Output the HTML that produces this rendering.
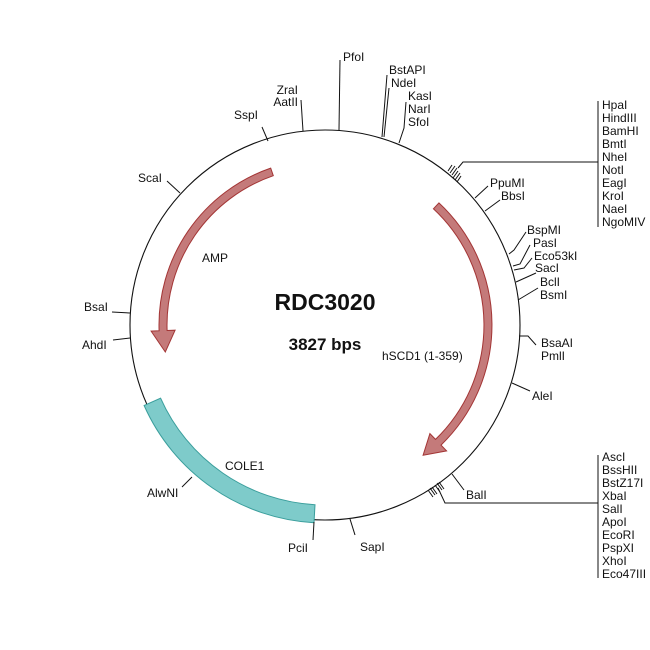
<!DOCTYPE html>
<html><head><meta charset="utf-8"><style>
body{margin:0;background:#fff;}
svg{display:block;font-family:"Liberation Sans",Arial,sans-serif;}
.l{font-size:12px;fill:#111;}
</style></head><body>
<svg width="650" height="650" viewBox="0 0 650 650">
<rect width="650" height="650" fill="#fff"/>
<circle cx="325" cy="325" r="195" fill="none" stroke="#111" stroke-width="1.1"/>
<path d="M144.1,405.5 A198,198 0 0 0 314,522.7 L315,504.7 A180,180 0 0 1 160.6,398.2 Z" fill="#7ecbca" stroke="#3a9e9c" stroke-width="1"/>
<path d="M270.7,168.1 A166,166 0 0 0 159.1,330.8 L151.1,331.1 L165.3,352 L175.1,330.2 L167.1,330.5 A158,158 0 0 1 273.3,175.7 Z" fill="#c47a7a" stroke="#a33535" stroke-width="1"/>
<path d="M438.9,202.9 A167,167 0 0 1 441,445.1 L446.6,450.9 L423.1,455.2 L429.9,433.6 L435.5,439.4 A159,159 0 0 0 433.4,208.8 Z" fill="#c47a7a" stroke="#a33535" stroke-width="1"/>
<g stroke="#111" stroke-width="1" fill="none">
<line x1="268" y1="141" x2="262" y2="127"/>
<line x1="303" y1="131" x2="301" y2="100"/>
<line x1="339" y1="130" x2="340" y2="60"/>
<line x1="382" y1="137" x2="387" y2="75"/>
<line x1="384" y1="137" x2="389" y2="88"/>
<polyline points="399,143 404,128 406,102"/>
<line x1="448" y1="171" x2="452" y2="165"/><line x1="450" y1="173" x2="455" y2="166"/><line x1="452" y1="175" x2="457" y2="168"/>
<line x1="453" y1="178" x2="458" y2="171"/><line x1="455" y1="180" x2="460" y2="173"/><line x1="457" y1="182" x2="461" y2="176"/>
<polyline points="458,168 463,162 598,162"/>
<line x1="598" y1="101" x2="598" y2="227"/>
<polyline points="475,198 488,186"/>
<polyline points="485,211 500,200"/>
<polyline points="509,254 514,250 526,232"/>
<polyline points="513,266 520,264 530,245"/>
<polyline points="514,270 524,268 532,258"/>
<polyline points="516,282 536,273"/>
<polyline points="518,300 538,288"/>
<polyline points="519,336 528,336 536,345"/>
<polyline points="512,383 530,391"/>
<polyline points="452,474 464,490"/>
<line x1="428" y1="490" x2="433" y2="497"/><line x1="430" y1="488" x2="435" y2="495"/><line x1="432" y1="487" x2="437" y2="494"/>
<line x1="435" y1="485" x2="440" y2="492"/><line x1="437" y1="483" x2="442" y2="490"/><line x1="439" y1="482" x2="444" y2="489"/>
<polyline points="438,488 445,503 598,503"/>
<line x1="598" y1="455" x2="598" y2="578"/>
<line x1="350" y1="519" x2="355" y2="535"/>
<line x1="314" y1="522" x2="313" y2="540"/>
<line x1="192" y1="477" x2="182" y2="487"/>
<line x1="130" y1="338" x2="113" y2="340"/>
<line x1="130" y1="313" x2="112" y2="312"/>
<line x1="180" y1="193" x2="167" y2="181"/>
</g>
<g class="l">
<text x="234" y="119">SspI</text>
<text x="298" y="94" text-anchor="end">ZraI</text>
<text x="298" y="106" text-anchor="end">AatII</text>
<text x="343" y="61">PfoI</text>
<text x="389" y="74">BstAPI</text>
<text x="391" y="87">NdeI</text>
<text x="408" y="100">KasI</text>
<text x="408" y="113">NarI</text>
<text x="408" y="126">SfoI</text>
<text x="602" y="109">HpaI</text><text x="602" y="122">HindIII</text><text x="602" y="135">BamHI</text>
<text x="602" y="148">BmtI</text><text x="602" y="161">NheI</text><text x="602" y="174">NotI</text>
<text x="602" y="187">EagI</text><text x="602" y="200">KroI</text><text x="602" y="213">NaeI</text><text x="602" y="226">NgoMIV</text>
<text x="490" y="187">PpuMI</text>
<text x="501" y="200">BbsI</text>
<text x="527" y="234">BspMI</text>
<text x="533" y="247">PasI</text>
<text x="534" y="260">Eco53kI</text>
<text x="535" y="272">SacI</text>
<text x="540" y="286">BclI</text>
<text x="540" y="299">BsmI</text>
<text x="541" y="347">BsaAI</text>
<text x="541" y="360">PmlI</text>
<text x="532" y="400">AleI</text>
<text x="466" y="499">BalI</text>
<text x="602" y="461">AscI</text><text x="602" y="474">BssHII</text><text x="602" y="487">BstZ17I</text>
<text x="602" y="500">XbaI</text><text x="602" y="513">SalI</text><text x="602" y="526">ApoI</text>
<text x="602" y="539">EcoRI</text><text x="602" y="552">PspXI</text><text x="602" y="565">XhoI</text><text x="602" y="578">Eco47III</text>
<text x="360" y="551">SapI</text>
<text x="288" y="552">PciI</text>
<text x="147" y="497">AlwNI</text>
<text x="82" y="349">AhdI</text>
<text x="84" y="311">BsaI</text>
<text x="138" y="182">ScaI</text>
<text x="202" y="262">AMP</text>
<text x="382" y="360">hSCD1 (1-359)</text>
<text x="225" y="470">COLE1</text>
</g>
<text x="325" y="310" text-anchor="middle" font-size="23" font-weight="bold" fill="#111">RDC3020</text>
<text x="325" y="350" text-anchor="middle" font-size="17" font-weight="bold" fill="#111">3827 bps</text>
</svg>
</body></html>
